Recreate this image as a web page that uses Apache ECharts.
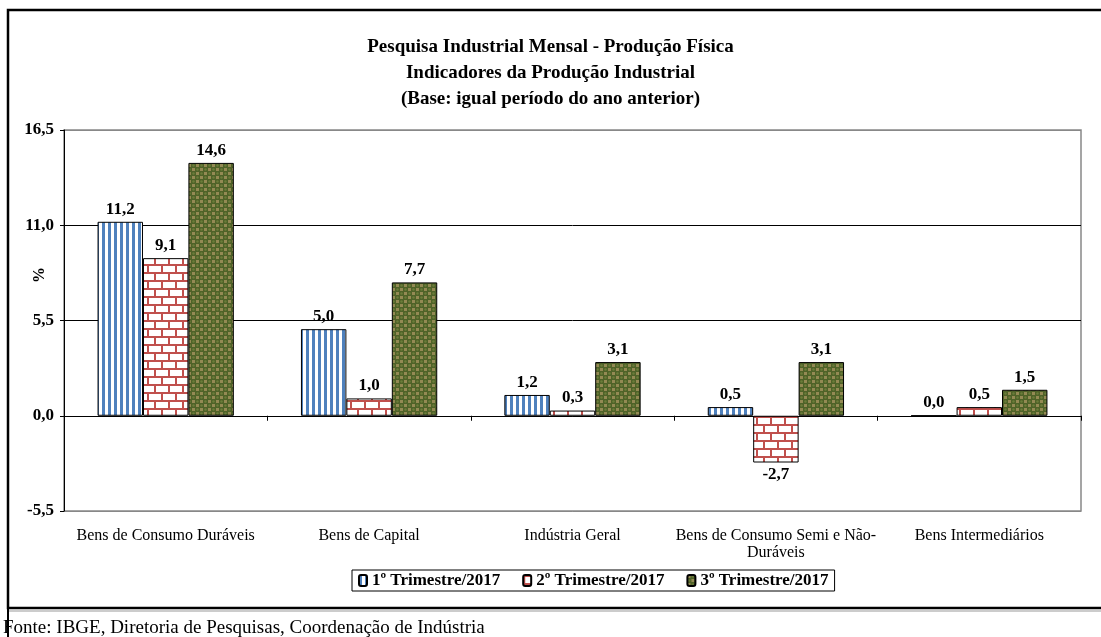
<html>
<head>
    <meta http-equiv="content-type" content="text/html; charset=utf-8">
    <title>Pesquisa Industrial Mensal</title>
    <script src="https://cdn.jsdelivr.net/npm/echarts@6/dist/echarts.min.js"></script>
    <style>
        body { margin: 0; background: #fff; }
        #chart { width: 1101px; height: 637px; }
    </style>
</head>
<body>
    <div id="chart"></div>
    <script type="text/javascript">
        // dados
        var categorias = ['Bens de Consumo Duráveis', 'Bens de Capital', 'Indústria Geral', 'Bens de Consumo Semi e Não-\nDuráveis', 'Bens Intermediários'];
        var trim1 = [11.2, 5.0, 1.2, 0.5, 0.0];
        var trim2 = [9.1, 1.0, 0.3, -2.7, 0.5];
        var trim3 = [14.6, 7.7, 3.1, 3.1, 1.5];
        var nomes = ['1º Trimestre/2017', '2º Trimestre/2017', '3º Trimestre/2017'];

        var serif = '"Liberation Serif", "DejaVu Serif", serif';

        function virgula(v) {
            return Number(v).toFixed(1).replace('.', ',');
        }

        // texturas das barras
        function listras() {
            var c = document.createElement('canvas');
            c.width = 6; c.height = 4;
            var g = c.getContext('2d');
            g.fillStyle = '#fff'; g.fillRect(0, 0, 6, 4);
            g.fillStyle = '#4f81bd'; g.fillRect(0, 0, 3, 4);
            return c;
        }
        function tijolos() {
            var c = document.createElement('canvas');
            c.width = 14; c.height = 16;
            var g = c.getContext('2d');
            g.fillStyle = '#fff'; g.fillRect(0, 0, 14, 16);
            g.fillStyle = '#c0504d';
            g.fillRect(0, 0, 14, 2);
            g.fillRect(0, 8, 14, 2);
            g.fillRect(0, 0, 2, 8);
            g.fillRect(7, 8, 2, 8);
            return c;
        }
        function bolinhas() {
            var c = document.createElement('canvas');
            c.width = 8; c.height = 8;
            var g = c.getContext('2d');
            g.fillStyle = '#4f6228'; g.fillRect(0, 0, 8, 8);
            g.fillStyle = '#948a54';
            g.fillRect(0, 0, 3, 3);
            g.fillRect(4, 4, 3, 3);
            g.fillStyle = '#6b7d3a';
            g.beginPath(); g.arc(5.5, 1.5, 1.2, 0, Math.PI * 2); g.fill();
            g.beginPath(); g.arc(1.5, 5.5, 1.2, 0, Math.PI * 2); g.fill();
            return c;
        }
        var texturas = [listras(), tijolos(), bolinhas()];

        function montaDados(arr) {
            return arr.map(function(v) {
                return { value: v, label: { position: v < 0 ? 'bottom' : 'top' } };
            });
        }

        var series = [trim1, trim2, trim3].map(function(arr, i) {
            return {
                name: nomes[i],
                type: 'bar',
                xAxisIndex: 0,
                barGap: '0%',
                barCategoryGap: '33%',
                data: montaDados(arr),
                itemStyle: {
                    color: { image: texturas[i], repeat: 'repeat' },
                    borderColor: '#000',
                    borderWidth: 1
                },
                label: {
                    show: true,
                    distance: 4,
                    fontFamily: serif,
                    fontWeight: 'bold',
                    fontSize: 17,
                    color: '#000',
                    formatter: function(p) { return virgula(p.value); }
                }
            };
        });

        var chart = echarts.init(document.getElementById('chart'));
        chart.setOption({
            animation: false,
            backgroundColor: '#fff',
            title: {
                text: 'Pesquisa Industrial Mensal - Produção Física\nIndicadores da Produção Industrial\n(Base: igual período do ano anterior)',
                left: 'center',
                top: 29,
                textStyle: {
                    fontFamily: serif,
                    fontWeight: 'bold',
                    fontSize: 19,
                    lineHeight: 26,
                    color: '#000'
                }
            },
            legend: {
                data: nomes,
                top: 570,
                left: 352,
                itemWidth: 8,
                itemHeight: 11,
                itemGap: 22,
                padding: [2, 6],
                borderColor: '#000',
                borderWidth: 1,
                backgroundColor: '#fff',
                textStyle: {
                    fontFamily: serif,
                    fontWeight: 'bold',
                    fontSize: 17,
                    color: '#000'
                }
            },
            grid: {
                left: 64,
                right: 20,
                top: 130,
                bottom: 126,
                show: true,
                borderColor: '#888',
                borderWidth: 1.5,
                backgroundColor: '#fff'
            },
            xAxis: [{
                type: 'category',
                data: categorias,
                position: 'bottom',
                axisLine: { show: false, onZero: false },
                axisTick: { show: false },
                axisLabel: {
                    interval: 0,
                    margin: 16,
                    fontFamily: serif,
                    fontSize: 16,
                    lineHeight: 17,
                    color: '#000'
                }
            }, {
                type: 'category',
                data: categorias,
                position: 'bottom',
                axisLine: { show: true, onZero: true, lineStyle: { color: '#000', width: 1 } },
                axisTick: { show: true, interval: 0, length: 5, lineStyle: { color: '#000' } },
                axisLabel: { show: false }
            }],
            yAxis: {
                type: 'value',
                min: -5.5,
                max: 16.5,
                interval: 5.5,
                axisLine: { show: true, lineStyle: { color: '#000', width: 1 } },
                axisTick: { show: true, length: 4, lineStyle: { color: '#000' } },
                axisLabel: {
                    fontFamily: serif,
                    fontWeight: 'bold',
                    fontSize: 17,
                    color: '#000',
                    margin: 10,
                    formatter: function(v) { return virgula(v); }
                },
                splitLine: {
                    show: true,
                    lineStyle: { color: ['#888', '#000', '#000', '#000', '#888'], width: 1 }
                }
            },
            series: series,
            graphic: [{
                type: 'rect',
                shape: { x: 8, y: 10, width: 1110, height: 598 },
                style: { fill: null, stroke: '#000', lineWidth: 2.5 },
                silent: true
            }, {
                type: 'line',
                shape: { x1: 8, y1: 611, x2: 1101, y2: 611 },
                style: { stroke: '#ccc', lineWidth: 2 },
                silent: true
            }, {
                type: 'line',
                shape: { x1: 8, y1: 608, x2: 8, y2: 637 },
                style: { stroke: '#000', lineWidth: 2 },
                silent: true
            }, {
                type: 'text',
                x: 40,
                y: 275,
                rotation: Math.PI / 2,
                style: {
                    text: '%',
                    fontFamily: serif,
                    fontWeight: 'bold',
                    fontSize: 16,
                    fill: '#000',
                    align: 'center',
                    verticalAlign: 'middle'
                }
            }, {
                type: 'text',
                x: 3,
                y: 628,
                style: {
                    text: 'Fonte: IBGE, Diretoria de Pesquisas, Coordenação de Indústria',
                    fontFamily: serif,
                    fontSize: 19,
                    fill: '#000',
                    verticalAlign: 'middle'
                }
            }]
        });
    </script>
</body>
</html>
